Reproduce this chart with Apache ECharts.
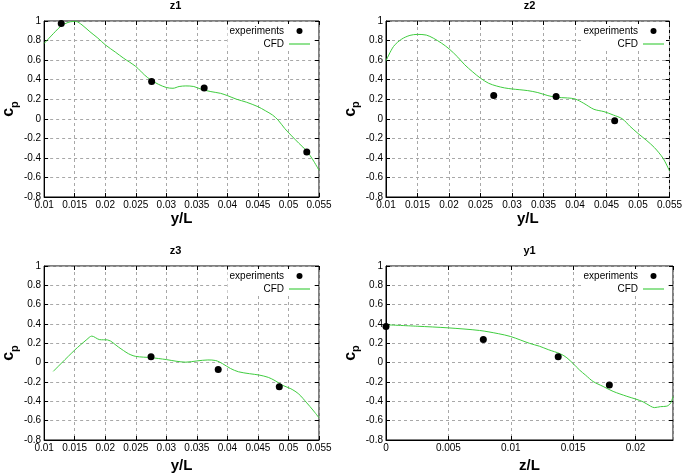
<!DOCTYPE html>
<html>
<head>
<meta charset="utf-8">
<script src="https://cdn.jsdelivr.net/npm/echarts@6/dist/echarts.min.js"></script>
<style>
html, body { margin: 0; padding: 0; background: #fff; }
#chart { width: 685px; height: 474px; }
</style>
</head>
<body>
<div id="chart"></div>
<script>
// panel titles and x axis names
const panelTitles = ['z1', 'z2', 'z3', 'y1']
const xNames = ['y/L', 'y/L', 'y/L', 'z/L']

// x ranges per panel
const xMins = [0.01, 0.01, 0.01, 0]
const xMaxs = [0.055, 0.055, 0.055, 0.023]

// z1
const z1CfdX = [0.01, 0.0118, 0.0128, 0.0139, 0.0147, 0.0152, 0.0162, 0.0175, 0.0188, 0.02, 0.0217, 0.023, 0.025, 0.0264, 0.0274, 0.0287, 0.03, 0.0311, 0.0321, 0.0332, 0.0345, 0.0358, 0.0373, 0.0389, 0.04, 0.0415, 0.0431, 0.045, 0.0462, 0.0474, 0.0483, 0.0494, 0.0504, 0.0517, 0.053, 0.054, 0.055]
const z1CfdCp = [0.77, 0.89, 0.95, 0.985, 0.995, 0.995, 0.96, 0.89, 0.825, 0.757, 0.68, 0.62, 0.535, 0.45, 0.40, 0.353, 0.32, 0.312, 0.33, 0.336, 0.33, 0.30, 0.278, 0.26, 0.237, 0.20, 0.17, 0.124, 0.083, 0.038, -0.013, -0.10, -0.167, -0.25, -0.33, -0.42, -0.526]
const z1ExpX = [0.0128, 0.0276, 0.0362, 0.053]
const z1ExpCp = [0.975, 0.38, 0.315, -0.34]

// z2
const z2CfdX = [0.01, 0.0112, 0.0125, 0.0138, 0.015, 0.0164, 0.0175, 0.0188, 0.02, 0.0214, 0.0225, 0.0237, 0.025, 0.0263, 0.0275, 0.0288, 0.03, 0.0325, 0.0341, 0.0357, 0.037, 0.0388, 0.04, 0.0414, 0.043, 0.0446, 0.0461, 0.0475, 0.0487, 0.05, 0.0513, 0.0526, 0.054, 0.055]
const z2CfdCp = [0.593, 0.74, 0.815, 0.853, 0.863, 0.856, 0.825, 0.774, 0.716, 0.63, 0.552, 0.483, 0.415, 0.363, 0.336, 0.316, 0.305, 0.288, 0.268, 0.237, 0.22, 0.213, 0.203, 0.158, 0.097, 0.073, 0.038, 0.0, -0.075, -0.15, -0.218, -0.294, -0.406, -0.533]
const z2ExpX = [0.0271, 0.037, 0.0463]
const z2ExpCp = [0.237, 0.227, -0.02]

// z3
const z3CfdX = [0.0115, 0.015, 0.017, 0.0178, 0.0191, 0.0204, 0.0222, 0.0238, 0.025, 0.0275, 0.03, 0.0316, 0.0332, 0.035, 0.0368, 0.0381, 0.0392, 0.0405, 0.0418, 0.0436, 0.0452, 0.0467, 0.0478, 0.0491, 0.0504, 0.0517, 0.053, 0.054, 0.055]
const z3CfdCp = [-0.09, 0.13, 0.24, 0.275, 0.238, 0.235, 0.16, 0.093, 0.065, 0.052, 0.032, 0.015, 0.005, 0.018, 0.028, 0.022, -0.01, -0.06, -0.094, -0.114, -0.128, -0.152, -0.186, -0.236, -0.27, -0.325, -0.416, -0.49, -0.57]
const z3ExpX = [0.0275, 0.0385, 0.0485]
const z3ExpCp = [0.06, -0.07, -0.25]

// y1
const y1CfdX = [0, 0.0025, 0.005, 0.0075, 0.009, 0.01, 0.0115, 0.0123, 0.013, 0.014, 0.0145, 0.015, 0.0155, 0.016, 0.0166, 0.0174, 0.0182, 0.0193, 0.02, 0.0206, 0.0212, 0.0215, 0.022, 0.0225, 0.0228, 0.023]
const y1CfdCp = [0.392, 0.377, 0.36, 0.333, 0.30, 0.27, 0.2, 0.17, 0.135, 0.09, 0.05, -0.01, -0.075, -0.13, -0.195, -0.246, -0.297, -0.348, -0.376, -0.405, -0.45, -0.465, -0.455, -0.45, -0.42, -0.35]
const y1ExpX = [0, 0.0078, 0.0138, 0.0179]
const y1ExpCp = [0.375, 0.24, 0.06, -0.23]

const cfdX = [z1CfdX, z2CfdX, z3CfdX, y1CfdX]
const cfdCp = [z1CfdCp, z2CfdCp, z3CfdCp, y1CfdCp]
const expX = [z1ExpX, z2ExpX, z3ExpX, y1ExpX]
const expCp = [z1ExpCp, z2ExpCp, z3ExpCp, y1ExpCp]

const zip = (xs, ys) => xs.map((x, i) => [x, ys[i]])

// plot boxes
const boxes = [
  { left: 32, top: 21, height: 176 },
  { left: 386, top: 21, height: 176 },
  { left: 32, top: 266, height: 177 },
  { left: 386, top: 266, height: 177 }
]
const green = '#3fcc3f'
const font = 'Liberation Sans, Arial, Helvetica, sans-serif'

const grid = [], xAxis = [], yAxis = [], series = [], legend = [], graphic = []

boxes.forEach((b, i) => {
  grid.push({
    left: b.left, top: b.top, width: 287, height: b.height,
    show: true, borderColor: '#000', borderWidth: 1, backgroundColor: 'transparent'
  })

  const tick = { show: true, inside: true, length: 4, lineStyle: { color: '#000' } }
  const split = { show: true, lineStyle: { color: '#a8a8a8', type: [3, 3], width: 1 } }

  xAxis.push({
    gridIndex: i, type: 'value', position: 'bottom',
    min: xMins[i], max: xMaxs[i], interval: 0.005,
    axisLine: { show: true, onZero: false, lineStyle: { color: '#000' } },
    axisTick: tick,
    axisLabel: { fontSize: 10, color: '#000', margin: 3, showMaxLabel: i !== 3 },
    splitLine: split,
    name: xNames[i], nameLocation: 'middle', nameGap: i < 2 ? 9 : 18,
    nameTextStyle: { fontSize: 15, fontWeight: 'bold', color: '#000', verticalAlign: 'top' }
  })
  xAxis.push({
    gridIndex: i, type: 'value', position: 'top',
    min: xMins[i], max: xMaxs[i], interval: 0.005,
    axisLine: { show: false, onZero: false }, axisTick: tick,
    axisLabel: { show: false }, splitLine: { show: false }
  })
  yAxis.push({
    gridIndex: i, type: 'value', position: 'left',
    min: -0.8, max: 1, interval: 0.2,
    axisLine: { show: true, onZero: false, lineStyle: { color: '#000' } },
    axisTick: tick,
    axisLabel: { fontSize: 10, color: '#000', margin: 3 },
    splitLine: split,
    name: '{c|c}{p|p}', nameLocation: 'middle', nameRotate: 90, nameGap: 12,
    nameTextStyle: {
      rich: {
        c: { fontSize: 16, fontWeight: 'bold', color: '#000', verticalAlign: 'bottom', padding: [0, 0, 3, 0] },
        p: { fontSize: 11, fontWeight: 'bold', color: '#000', verticalAlign: 'bottom' }
      }
    }
  })
  yAxis.push({
    gridIndex: i, type: 'value', position: 'right',
    min: -0.8, max: 1, interval: 0.2,
    axisLine: { show: false, onZero: false }, axisTick: tick,
    axisLabel: { show: false }, splitLine: { show: false }
  })

  series.push({
    name: 'CFD', type: 'line', xAxisIndex: 2 * i, yAxisIndex: 2 * i,
    data: zip(cfdX[i], cfdCp[i]), smooth: 0.3, showSymbol: false,
    color: green, lineStyle: { color: green, width: 1 }, z: 2
  })
  series.push({
    name: 'experiments', type: 'scatter', xAxisIndex: 2 * i, yAxisIndex: 2 * i,
    data: zip(expX[i], expCp[i]), symbolSize: 7,
    itemStyle: { color: '#000', opacity: 1 }, z: 3
  })

  legend.push({
    orient: 'vertical', align: 'right', selectedMode: false,
    right: 685 - (b.left + 287) + 7, top: b.top + 3,
    padding: 2, itemGap: 3, itemWidth: 21, itemHeight: 6,
    backgroundColor: '#fff',
    textStyle: { fontSize: 10, color: '#000', fontFamily: font },
    itemStyle: { opacity: 1 },
    data: [
      { name: 'experiments', icon: 'circle' },
      { name: 'CFD', icon: 'path://M0,0H22V1.2H0Z' }
    ]
  })

  graphic.push({
    type: 'text', x: b.left + 143.5, y: b.top - 15,
    style: { text: panelTitles[i], font: 'bold 11px ' + font, fill: '#000', align: 'center', verticalAlign: 'middle' }
  })
})

const chart = echarts.init(document.getElementById('chart'))
chart.setOption({
  animation: false,
  textStyle: { fontFamily: font },
  grid, xAxis, yAxis, series, legend, graphic
})
</script>
</body>
</html>
